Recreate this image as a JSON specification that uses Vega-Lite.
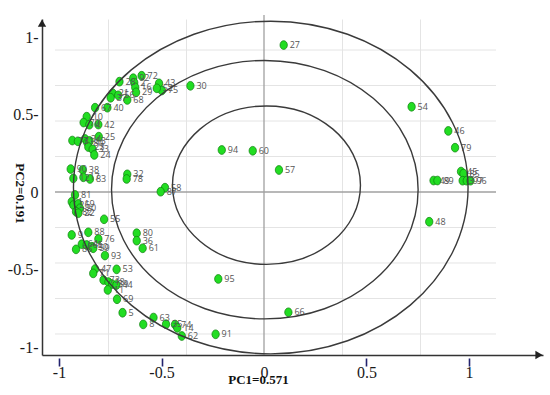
{
  "$schema": "https://vega.github.io/schema/vega-lite/v6.json",
  "autosize": {"type": "none"},
  "padding": {"left": 42, "top": 19, "right": 7, "bottom": 40},
  "width": 501,
  "height": 336,
  "background": "white",
  "config": {"view": {"stroke": null}, "axis": {"labelOverlap": false, "labelFlush": false}},
  "data": {"values": [{}]},
  "datasets": {
    "hgrid": [{"g": -0.916}, {"g": -0.687}, {"g": -0.458}, {"g": -0.229}, {"g": 0.229}, {"g": 0.458}, {"g": 0.687}, {"g": 0.916}],
    "pts": [
      {"id":"27","x":0.096,"y":0.948},{"id":"30","x":-0.359,"y":0.685},{"id":"43","x":-0.512,"y":0.701},{"id":"75","x":-0.498,"y":0.655},
      {"id":"52","x":-0.523,"y":0.669},{"id":"72","x":-0.597,"y":0.750},{"id":"92","x":-0.638,"y":0.734},{"id":"2","x":-0.633,"y":0.705},
      {"id":"16","x":-0.628,"y":0.675},{"id":"29","x":-0.624,"y":0.643},{"id":"28","x":-0.705,"y":0.712},{"id":"21","x":-0.738,"y":0.637},
      {"id":"37","x":-0.748,"y":0.608},{"id":"56","x":-0.711,"y":0.624},{"id":"68","x":-0.667,"y":0.594},{"id":"67","x":-0.824,"y":0.544},
      {"id":"40","x":-0.764,"y":0.544},{"id":"10","x":-0.865,"y":0.486},{"id":"70","x":-0.880,"y":0.448},{"id":"4","x":-0.852,"y":0.434},
      {"id":"42","x":-0.808,"y":0.435},{"id":"77","x":-0.935,"y":0.332},{"id":"31","x":-0.908,"y":0.327},{"id":"34","x":-0.873,"y":0.342},
      {"id":"84","x":-0.862,"y":0.319},{"id":"13","x":-0.851,"y":0.329},{"id":"25","x":-0.806,"y":0.357},{"id":"23","x":-0.857,"y":0.290},
      {"id":"33","x":-0.836,"y":0.275},{"id":"24","x":-0.828,"y":0.239},{"id":"90","x":-0.943,"y":0.148},{"id":"38","x":-0.884,"y":0.142},
      {"id":"12","x":-0.930,"y":0.088},{"id":"17","x":-0.881,"y":0.095},{"id":"83","x":-0.849,"y":0.084},{"id":"32","x":-0.667,"y":0.114},
      {"id":"78","x":-0.670,"y":0.084},{"id":"58","x":-0.483,"y":0.028},{"id":"87","x":-0.504,"y":0.002},{"id":"81","x":-0.922,"y":-0.019},
      {"id":"1","x":-0.938,"y":-0.063},{"id":"26","x":-0.930,"y":-0.084},{"id":"19","x":-0.906,"y":-0.077},{"id":"20","x":-0.898,"y":-0.105},
      {"id":"82","x":-0.917,"y":-0.127},{"id":"22","x":-0.906,"y":-0.137},{"id":"55","x":-0.780,"y":-0.176},{"id":"9","x":-0.938,"y":-0.277},
      {"id":"88","x":-0.857,"y":-0.260},{"id":"76","x":-0.808,"y":-0.303},{"id":"64","x":-0.889,"y":-0.337},{"id":"65","x":-0.865,"y":-0.342},
      {"id":"50","x":-0.840,"y":-0.353},{"id":"86","x":-0.917,"y":-0.370},{"id":"59","x":-0.833,"y":-0.363},{"id":"93","x":-0.776,"y":-0.410},
      {"id":"47","x":-0.824,"y":-0.497},{"id":"71","x":-0.833,"y":-0.525},{"id":"53","x":-0.719,"y":-0.499},{"id":"73","x":-0.783,"y":-0.568},
      {"id":"18","x":-0.759,"y":-0.581},{"id":"39","x":-0.741,"y":-0.594},{"id":"44","x":-0.720,"y":-0.600},{"id":"11","x":-0.762,"y":-0.632},
      {"id":"69","x":-0.717,"y":-0.692},{"id":"5","x":-0.690,"y":-0.779},{"id":"63","x":-0.539,"y":-0.810},{"id":"8","x":-0.589,"y":-0.854},
      {"id":"35","x":-0.478,"y":-0.853},{"id":"74","x":-0.434,"y":-0.855},{"id":"14","x":-0.423,"y":-0.877},{"id":"62","x":-0.401,"y":-0.929},
      {"id":"91","x":-0.236,"y":-0.918},{"id":"95","x":-0.223,"y":-0.561},{"id":"66","x":0.119,"y":-0.776},{"id":"80","x":-0.621,"y":-0.266},
      {"id":"36","x":-0.621,"y":-0.314},{"id":"61","x":-0.592,"y":-0.363},{"id":"94","x":-0.206,"y":0.271},{"id":"60","x":-0.055,"y":0.266},
      {"id":"57","x":0.073,"y":0.142},{"id":"54","x":0.720,"y":0.550},{"id":"46","x":0.899,"y":0.394},{"id":"79","x":0.932,"y":0.286},
      {"id":"48","x":0.806,"y":-0.192},{"id":"49","x":0.827,"y":0.074},{"id":"89","x":0.846,"y":0.074},{"id":"45","x":0.961,"y":0.132},
      {"id":"85","x":0.973,"y":0.119},{"id":"3","x":0.969,"y":0.073},{"id":"97","x":0.989,"y":0.073},{"id":"96","x":1.007,"y":0.073}
    ],
    "rings": [
      {"ring":"outer","x":0.033,"y":0.029},
      {"ring":"middle","x":0.004,"y":0.015},
      {"ring":"inner","x":0.012,"y":0.044}
    ]
  },
  "layer": [
    {
      "data": {"name": "pts"},
      "mark": {"type": "point", "opacity": 0},
      "encoding": {
        "x": {
          "field": "x", "type": "quantitative",
          "scale": {"domain": [-1.08293, 1.36098], "nice": false, "zero": false},
          "axis": {
            "values": [-1, -0.76, -0.5, -0.38, 0, 0.38, 0.5, 0.76, 1],
            "labelExpr": "indexof([-1,-0.5,0,0.5,1], datum.value) >= 0 ? '' + datum.value : ''",
            "labelFont": "Liberation Serif", "labelColor": "#1a1a1a", "labelFontSize": 16,
            "labelFlush": false, "labelOverlap": false, "labelPadding": -2,
            "grid": true,
            "gridColor": {"condition": {"test": "indexof([-0.76,-0.38,0.38,0.76], datum.value) >= 0", "value": "#e4e4e4"}, "value": "transparent"},
            "ticks": true, "tickSize": 11, "tickWidth": 1.6, "tickDash": [0, 3, 8, 100],
            "tickColor": {"condition": {"test": "indexof([-1,-0.5,0.5,1], datum.value) >= 0", "value": "#23236e"}, "value": "transparent"},
            "domainColor": "#333333", "domainWidth": 1.5,
            "title": "PC1=0.571", "titleFont": "Liberation Serif", "titleFontSize": 13, "titleFontWeight": "bold",
            "titleColor": "#111111", "titleX": 216, "titleY": 24, "titleAlign": "center", "titleBaseline": "middle"
          }
        },
        "y": {
          "field": "y", "type": "quantitative",
          "scale": {"domain": [-1.05161, 1.11613], "nice": false, "zero": false},
          "axis": {
            "values": [-1, -0.5, 0, 0.5, 1],
            "labelExpr": "datum.value == 0 ? '0' : datum.value + '-'",
            "labelFont": "Liberation Serif", "labelColor": "#1a1a1a", "labelFontSize": 16,
            "labelFlush": false, "labelOverlap": false, "labelPadding": 4,
            "ticks": false,
            "grid": false,
            "domainColor": "#333333", "domainWidth": 1.5,
            "title": "PC2=0.191", "titleFont": "Liberation Serif", "titleFontSize": 13, "titleFontWeight": "bold",
            "titleColor": "#111111", "titleAngle": 90, "titleX": -23, "titleY": 174, "titleAlign": "center", "titleBaseline": "middle"
          }
        }
      }
    },
    {
      "data": {"name": "hgrid"},
      "mark": {"type": "rule", "color": "#e4e4e4", "strokeWidth": 1},
      "encoding": {
        "y": {"field": "g", "type": "quantitative"},
        "x": {"datum": -1.0195, "type": "quantitative"},
        "x2": {"datum": 1.1317}
      }
    },
    {
      "mark": {"type": "rule", "color": "#a0a0a0", "strokeWidth": 1.3},
      "encoding": {
        "y": {"datum": 0, "type": "quantitative"},
        "x": {"datum": -1.0195, "type": "quantitative"},
        "x2": {"datum": 1.1317}
      }
    },
    {
      "mark": {"type": "rule", "color": "#a0a0a0", "strokeWidth": 1.3},
      "encoding": {
        "x": {"datum": 0, "type": "quantitative"},
        "y": {"datum": 1.142, "type": "quantitative"},
        "y2": {"datum": -1.0516}
      }
    },
    {
      "data": {"name": "pts"},
      "mark": {
        "type": "point", "filled": true, "opacity": 1,
        "shape": "M0.84,0C0.84,0.5523 0.4639,1 0,1C-0.4639,1 -0.84,0.5523 -0.84,0C-0.84,-0.5523 -0.4639,-1 0,-1C0.4639,-1 0.84,-0.5523 0.84,0Z",
        "size": 77, "fill": "#22dd22", "stroke": "#0b7d0b", "strokeWidth": 0.7
      },
      "encoding": {
        "x": {"field": "x", "type": "quantitative"},
        "y": {"field": "y", "type": "quantitative"}
      }
    },
    {
      "data": {"name": "pts"},
      "mark": {"type": "text", "align": "left", "baseline": "middle", "dx": 6, "fontSize": 9, "font": "Open Sans", "color": "#555555"},
      "encoding": {
        "x": {"field": "x", "type": "quantitative"},
        "y": {"field": "y", "type": "quantitative"},
        "text": {"field": "id", "type": "nominal"}
      }
    },
    {
      "data": {"name": "rings"},
      "transform": [{"filter": "datum.ring == 'outer'"}],
      "mark": {
        "type": "point", "filled": false, "opacity": 1, "size": 155709,
        "shape": "M1,0C1,0.4656 0.5523,0.843 0,0.843C-0.5523,0.843 -1,0.4656 -1,0C-1,-0.4656 -0.5523,-0.843 0,-0.843C0.5523,-0.843 1,-0.4656 1,0Z",
        "stroke": "#3a3a3a", "strokeWidth": 1.4
      },
      "encoding": {
        "x": {"field": "x", "type": "quantitative"},
        "y": {"field": "y", "type": "quantitative"}
      }
    },
    {
      "data": {"name": "rings"},
      "transform": [{"filter": "datum.ring == 'middle'"}],
      "mark": {
        "type": "point", "filled": false, "opacity": 1, "size": 94004,
        "shape": "M1,0C1,0.4656 0.5523,0.843 0,0.843C-0.5523,0.843 -1,0.4656 -1,0C-1,-0.4656 -0.5523,-0.843 0,-0.843C0.5523,-0.843 1,-0.4656 1,0Z",
        "stroke": "#3a3a3a", "strokeWidth": 1.4
      },
      "encoding": {
        "x": {"field": "x", "type": "quantitative"},
        "y": {"field": "y", "type": "quantitative"}
      }
    },
    {
      "data": {"name": "rings"},
      "transform": [{"filter": "datum.ring == 'inner'"}],
      "mark": {
        "type": "point", "filled": false, "opacity": 1, "size": 35344,
        "shape": "M1,0C1,0.4656 0.5523,0.843 0,0.843C-0.5523,0.843 -1,0.4656 -1,0C-1,-0.4656 -0.5523,-0.843 0,-0.843C0.5523,-0.843 1,-0.4656 1,0Z",
        "stroke": "#3a3a3a", "strokeWidth": 1.4
      },
      "encoding": {
        "x": {"field": "x", "type": "quantitative"},
        "y": {"field": "y", "type": "quantitative"}
      }
    },
    {
      "mark": {"type": "point", "shape": "triangle-right", "filled": true, "size": 70, "color": "#222222", "opacity": 1},
      "encoding": {
        "x": {"datum": 1.3415, "type": "quantitative"},
        "y": {"datum": -1.05161, "type": "quantitative"}
      }
    },
    {
      "mark": {"type": "point", "shape": "triangle-up", "filled": true, "size": 70, "color": "#222222", "opacity": 1},
      "encoding": {
        "x": {"datum": -1.08293, "type": "quantitative"},
        "y": {"datum": 1.0903, "type": "quantitative"}
      }
    }
  ]
}
